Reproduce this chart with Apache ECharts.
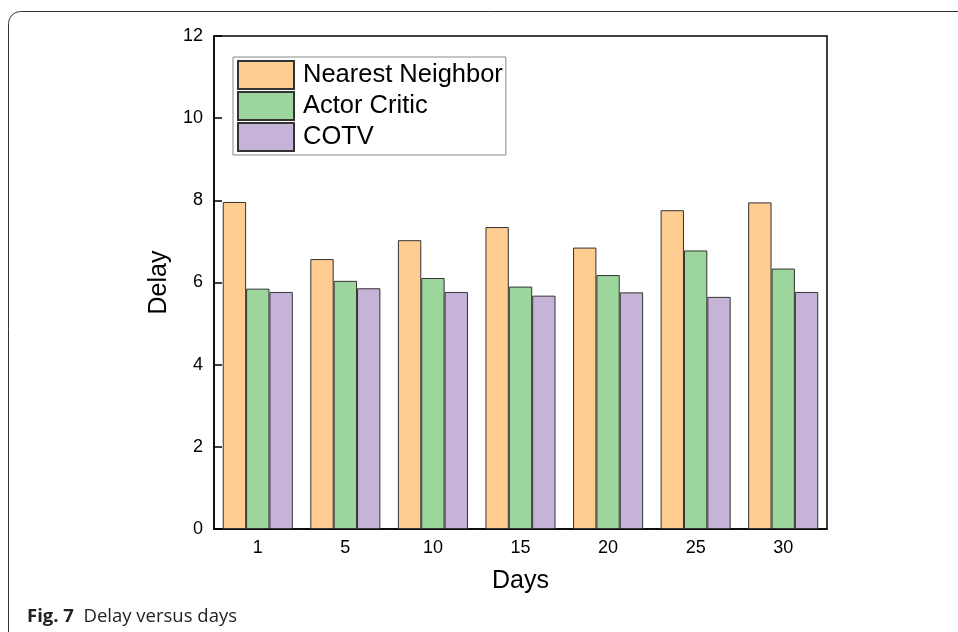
<!DOCTYPE html>
<html><head><meta charset="utf-8">
<script src="https://cdn.jsdelivr.net/npm/echarts@6/dist/echarts.min.js"></script>
<style>html,body{margin:0;padding:0;background:#fff}#c{width:958px;height:632px}</style>
</head><body><div id="c"></div>
<script>
const categories = ['1','5','10','15','20','25','30'];
const nearestNeighbor = [7.96, 6.57, 7.03, 7.35, 6.85, 7.76, 7.95];
const actorCritic = [5.85, 6.04, 6.11, 5.90, 6.18, 6.78, 6.34];
const cotv = [5.77, 5.86, 5.77, 5.68, 5.76, 5.65, 5.77];
const yTicks = [0, 2, 4, 6, 8, 10, 12];

const chart = echarts.init(document.getElementById('c'));
const bs = {borderColor:'#333', borderWidth:1};
chart.setOption({
  animation:false,
  textStyle:{fontFamily:'Liberation Sans, Arial, sans-serif'},
  grid:{left:214, right:131, top:36, bottom:103, show:true, borderColor:'#000', borderWidth:1.5, backgroundColor:'transparent'},
  legend:{
    orient:'vertical', left:233, top:57, itemWidth:56, itemHeight:28, itemGap:1,
    padding:[3,3,3,4], borderColor:'#888', borderWidth:1, icon:'rect',
    textStyle:{fontSize:25.5, lineHeight:28, color:'#000', fontFamily:'Liberation Sans, Arial, sans-serif', padding:[0,0,0,4]},
    data:['Nearest Neighbor','Actor Critic','COTV']
  },
  xAxis:{
    type:'category', data:categories,
    axisLine:{lineStyle:{color:'#000', width:1.5}},
    axisTick:{show:false},
    axisLabel:{fontSize:18, color:'#000', margin:10},
    name:'Days', nameLocation:'middle', nameGap:40,
    nameTextStyle:{fontSize:25, color:'#000'}
  },
  yAxis:{
    type:'value', min:0, max:12, interval:2,
    axisLine:{show:true, lineStyle:{color:'#000', width:1.5}},
    axisTick:{show:true, inside:true, length:8, lineStyle:{color:'#000', width:1.5}},
    splitLine:{show:false},
    axisLabel:{fontSize:18, color:'#000', margin:11, formatter:v=>yTicks.includes(v)?String(v):''},
    name:'Delay', nameLocation:'middle', nameGap:37,
    nameTextStyle:{fontSize:25, color:'#000'}
  },
  series:[
    {name:'Nearest Neighbor', type:'bar', data:nearestNeighbor, barGap:'0%', barCategoryGap:'20%', itemStyle:Object.assign({color:'#FFCC91'},bs)},
    {name:'Actor Critic', type:'bar', data:actorCritic, barGap:'0%', barCategoryGap:'20%', itemStyle:Object.assign({color:'#9DD69C'},bs)},
    {name:'COTV', type:'bar', data:cotv, barGap:'0%', barCategoryGap:'20%', itemStyle:Object.assign({color:'#C6B3D8'},bs)}
  ],
  graphic:[
    {type:'rect', left:6, top:9, shape:{width:1000, height:700, r:12}, style:{fill:'none', stroke:'#333', lineWidth:1}, z:-1, silent:true},
    {type:'text', left:27, top:607, style:{text:'{b|Fig. 7}  Delay versus days', font:'18.5px "Open Sans", sans-serif', fill:'#222', rich:{b:{fontWeight:'bold', fontSize:18.5, fontFamily:'Open Sans, sans-serif', fill:'#222'}}}}
  ]
});
</script></body></html>
